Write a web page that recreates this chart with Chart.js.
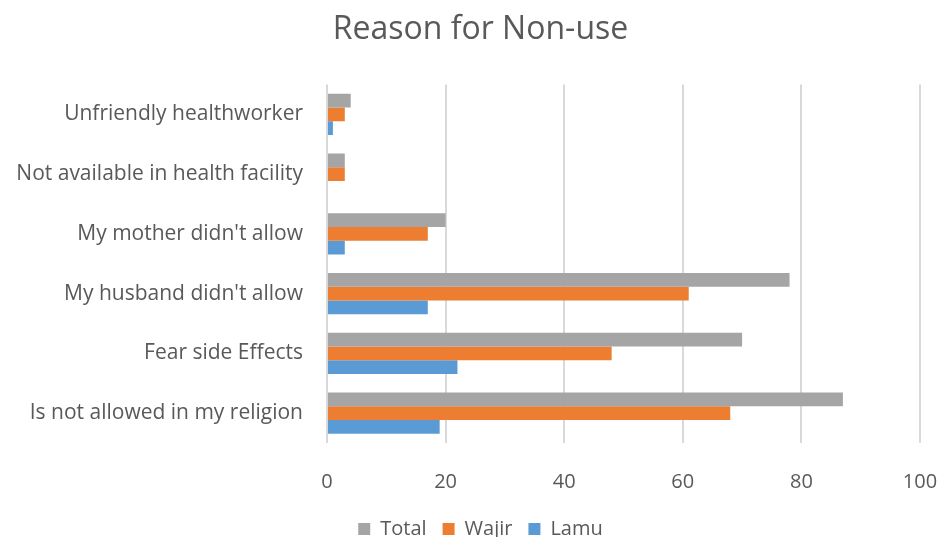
<!DOCTYPE html>
<html>
<head>
<meta charset="utf-8">
<script src="https://cdn.jsdelivr.net/npm/chart.js@4.4.0/dist/chart.umd.min.js"></script>
<style>
  html, body { margin: 0; padding: 0; background: #fff; overflow: hidden; }
  #wrap { width: 939px; height: 537px; overflow: hidden; }
</style>
</head>
<body>
<div id="wrap"><canvas id="myChart" width="961" height="549"></canvas></div>
<script>
// categories (top to bottom)
var reasons = [
    'Unfriendly healthworker',
    'Not available in health facility',
    "My mother didn't allow",
    "My husband didn't allow",
    'Fear side Effects',
    'Is not allowed in my religion'
];
var totalVals = [4, 3, 20, 78, 70, 87];
var wajirVals = [3, 3, 17, 61, 48, 68];
var lamuVals = [1, 0, 3, 17, 22, 19];
var xTicks = [0, 20, 40, 60, 80, 100];

var FONT = "'Open Sans', 'Noto Sans', sans-serif";
var GREY = '#595959';

var ctx = document.getElementById('myChart').getContext('2d');
var myChart = new Chart(ctx, {
    type: 'bar',
    data: {
        labels: reasons,
        datasets: [{
            label: 'Total',
            data: totalVals,
            backgroundColor: '#A5A5A5'
        }, {
            label: 'Wajir',
            data: wajirVals,
            backgroundColor: '#ED7D31'
        }, {
            label: 'Lamu',
            data: lamuVals,
            backgroundColor: '#5B9BD5'
        }]
    },
    options: {
        indexAxis: 'y',
        responsive: false,
        animation: false,
        datasets: {
            bar: { categoryPercentage: 0.69, barPercentage: 1.0 }
        },
        layout: { padding: 0 },
        plugins: {
            title: {
                display: true,
                text: 'Reason for Non-use',
                color: GREY,
                font: { family: FONT, size: 32, weight: 'normal' },
                padding: { top: 11, bottom: 35 }
            },
            legend: {
                position: 'bottom',
                labels: {
                    color: GREY,
                    font: { family: FONT, size: 20 },
                    boxWidth: 12,
                    boxHeight: 12,
                    padding: 16
                }
            },
            tooltip: { enabled: false }
        },
        scales: {
            x: {
                min: 0,
                max: 100,
                afterBuildTicks: function(axis) {
                    axis.ticks = xTicks.map(function(v) { return { value: v }; });
                },
                // keep the plot right edge and bottom where the original has them
                afterFit: function(axis) {
                    axis.paddingRight = 41;
                    axis.height = 60;
                },
                grid: { color: '#D9D9D9', lineWidth: 2, drawTicks: false },
                border: { display: false },
                ticks: {
                    color: GREY,
                    font: { family: FONT, size: 20 },
                    padding: 27
                }
            },
            y: {
                afterFit: function(axis) { axis.width = 327; },
                grid: { display: false, drawTicks: false },
                border: { display: false },
                ticks: {
                    color: GREY,
                    font: { family: FONT, size: 21 },
                    padding: 24
                }
            }
        }
    }
});
</script>
</body>
</html>
